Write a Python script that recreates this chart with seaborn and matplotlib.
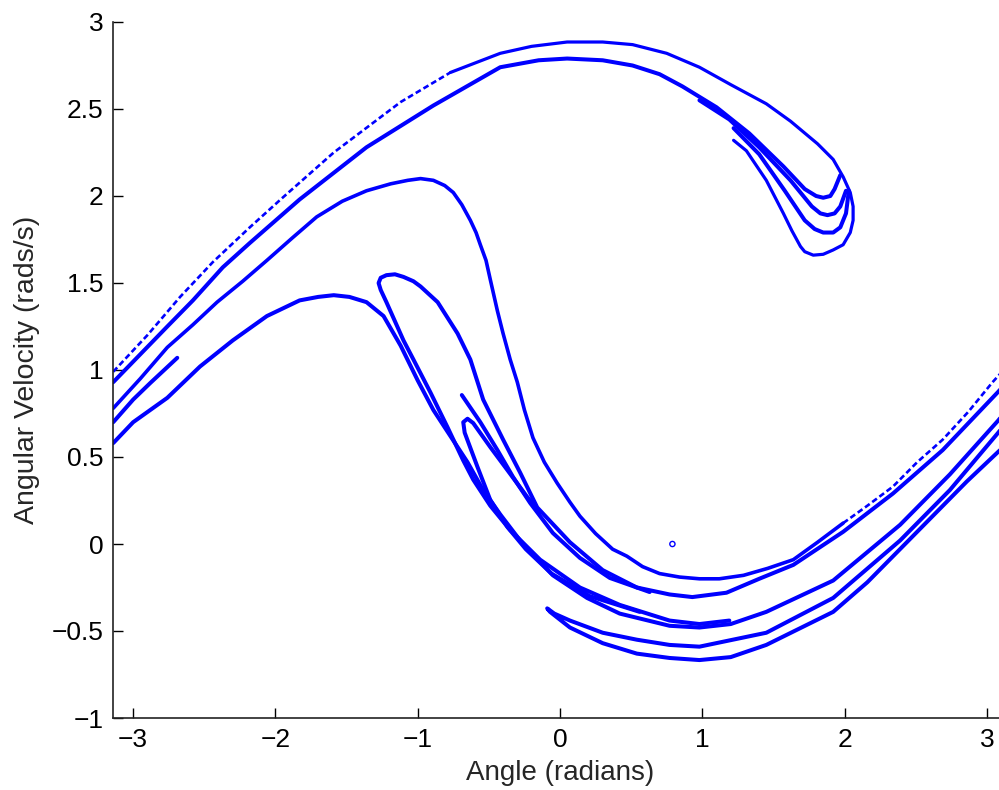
import numpy as np
import pandas as pd
import matplotlib
matplotlib.use("Agg")
import matplotlib.pyplot as plt
import seaborn as sns

# ---- data: strands of the Poincare section (angle in rad, angular velocity in rad/s) ----
# outer strand of the top band: sparse part (left) and dense part (top arc + hook)
t1s_angle = [-3.14, -2.90, -2.67, -2.44, -2.18, -1.95, -1.59, -1.12, -0.77]
t1s_omega = [0.99, 1.20, 1.42, 1.62, 1.82, 1.99, 2.25, 2.54, 2.71]
t1_angle = [-0.77, -0.42, -0.20, 0.05, 0.30, 0.51,
            0.75, 0.98, 1.20, 1.45, 1.62, 1.81, 1.92, 1.99, 2.04, 2.06, 2.06, 2.04, 1.99, 1.92, 1.85, 1.78,
            1.72, 1.69, 1.63, 1.57, 1.45, 1.31, 1.22]
t1_omega = [2.71, 2.82, 2.86, 2.885, 2.885, 2.87,
            2.82, 2.74, 2.64, 2.53, 2.43, 2.30, 2.21, 2.11, 2.02, 1.94, 1.86, 1.79, 1.72, 1.69, 1.665, 1.66,
            1.68, 1.71, 1.80, 1.90, 2.09, 2.26, 2.32]

t2_angle = [-3.14, -2.76, -2.58, -2.37, -2.18, -1.83, -1.36, -0.89, -0.42, -0.15, 0.05, 0.30, 0.51, 0.70,
            0.86, 1.10, 1.33, 1.57, 1.72, 1.80, 1.85, 1.90, 1.93, 1.97]
t2_omega = [0.93, 1.25, 1.40, 1.59, 1.73, 1.98, 2.28, 2.52, 2.74, 2.78, 2.79, 2.78, 2.75, 2.70,
            2.63, 2.51, 2.36, 2.17, 2.04, 2.00, 1.99, 2.00, 2.04, 2.12]

u2_angle = [0.98, 1.19, 1.40, 1.62, 1.77, 1.83, 1.88, 1.93, 1.97, 2.01]
u2_omega = [2.55, 2.44, 2.28, 2.09, 1.94, 1.90, 1.89, 1.90, 1.94, 2.03]

u3_angle = [1.22, 1.40, 1.58, 1.72, 1.79, 1.85, 1.92, 1.97, 2.01, 2.03]
u3_omega = [2.39, 2.24, 2.03, 1.86, 1.81, 1.79, 1.79, 1.82, 1.90, 2.03]

# middle band: dense part and sparse right-hand part
m_angle = [-3.14, -2.95, -2.76, -2.58, -2.41, -2.23, -2.06, -1.88, -1.71, -1.53, -1.36, -1.19, -1.07, -0.98,
           -0.89, -0.81, -0.75, -0.69, -0.63, -0.59, -0.56, -0.52, -0.49, -0.44, -0.40, -0.35, -0.30, -0.25,
           -0.19, -0.11, -0.02, 0.07, 0.14, 0.25, 0.37, 0.47, 0.58, 0.70, 0.84, 0.98, 1.12, 1.29, 1.46, 1.64,
           1.81, 1.99]
m_omega = [0.78, 0.95, 1.13, 1.26, 1.39, 1.51, 1.63, 1.76, 1.88, 1.97, 2.03, 2.07, 2.09, 2.10,
           2.09, 2.06, 2.02, 1.95, 1.86, 1.79, 1.72, 1.63, 1.52, 1.34, 1.21, 1.06, 0.93, 0.77,
           0.61, 0.47, 0.35, 0.24, 0.16, 0.06, -0.03, -0.07, -0.13, -0.17, -0.19, -0.20, -0.20, -0.18, -0.14, -0.09,
           0.01, 0.12]
ms_angle = [1.99, 2.16, 2.34, 2.51, 2.69, 2.87, 3.04, 3.14]
ms_omega = [0.12, 0.22, 0.33, 0.47, 0.60, 0.76, 0.93, 1.02]

loop_angle = [1.19, 0.98, 0.77, 0.42, 0.14, -0.14, -0.35, -0.49, -0.61, -0.68, -0.79, -0.91, -1.03, -1.10,
              -1.16, -1.22, -1.26, -1.275, -1.26, -1.22, -1.16, -1.10, -1.03, -0.98, -0.86, -0.72, -0.63,
              -0.54, -0.40, -0.28, -0.16, 0.07, 0.30, 0.54, 0.77, 0.93, 1.17, 1.40, 1.64, 1.99, 2.34, 2.69,
              3.08, 3.14]
loop_omega = [-0.44, -0.46, -0.44, -0.35, -0.25, -0.09, 0.08, 0.22, 0.37, 0.48, 0.67, 0.87, 1.06, 1.17,
              1.28, 1.39, 1.46, 1.50, 1.53, 1.545, 1.55, 1.535, 1.51, 1.48, 1.39, 1.21, 1.06,
              0.83, 0.60, 0.41, 0.21, 0.01, -0.15, -0.25, -0.29, -0.305, -0.28, -0.20, -0.12, 0.07, 0.29, 0.54,
              0.875, 0.93]

e_angle = [-3.14, -3.00, -2.76, -2.53, -2.30, -2.06, -1.83, -1.70, -1.59, -1.48, -1.36, -1.24, -1.12, -1.00,
           -0.89, -0.77, -0.65, -0.54, -0.42, -0.28, -0.05, 0.19, 0.42, 0.77, 0.98, 1.20, 1.45, 1.92, 2.39,
           2.74, 3.08, 3.14]
e_omega = [0.58, 0.70, 0.84, 1.02, 1.17, 1.31, 1.40, 1.42, 1.43, 1.42, 1.39, 1.31, 1.14, 0.94,
           0.77, 0.62, 0.47, 0.31, 0.17, 0.02, -0.18, -0.31, -0.40, -0.47, -0.48, -0.46, -0.39, -0.21, 0.11,
           0.40, 0.71, 0.77]

small_angle = [3.14, 3.08, 2.74, 2.39, 1.92, 1.45, 0.98, 0.77, 0.54, 0.30, 0.07, -0.04, -0.09, -0.07,
               0.07, 0.30, 0.54, 0.77, 0.98, 1.20, 1.45, 1.92, 2.16, 2.51, 2.86, 3.08, 3.14]
small_omega = [0.70, 0.64, 0.31, 0.02, -0.31, -0.51, -0.59, -0.58, -0.55, -0.51, -0.44, -0.40, -0.37, -0.39,
               -0.48, -0.57, -0.63, -0.655, -0.667, -0.65, -0.58, -0.39, -0.22, 0.07, 0.36, 0.53, 0.575]

d_angle = [-3.14, -3.00, -2.88, -2.69]
d_omega = [0.70, 0.83, 0.925, 1.07]

n1_angle = [-0.69, -0.56, -0.44, -0.33, -0.21, -0.05, 0.14, 0.35, 0.63]
n1_omega = [0.856, 0.70, 0.54, 0.385, 0.236, 0.063, -0.08, -0.195, -0.276]

n2_angle = [-0.14, -0.23, -0.37, -0.49, -0.61, -0.65, -0.68, -0.67, -0.58, -0.49, -0.37, -0.24, -0.06, 0.21, 0.56]
n2_omega = [0.18, 0.27, 0.425, 0.557, 0.695, 0.72, 0.70, 0.64, 0.443, 0.253, 0.098, -0.03, -0.17, -0.30, -0.39]

fixed_angle = [0.79]
fixed_omega = [0.0]

x_ticks = [-3, -2, -1, 0, 1, 2, 3]
x_tick_labels = ["\u22123", "\u22122", "\u22121", "0", "1", "2", "3"]
y_ticks = [-1, -0.5, 0, 0.5, 1, 1.5, 2, 2.5, 3]
y_tick_labels = ["\u22121", "\u22120.5", "0", "0.5", "1", "1.5", "2", "2.5", "3"]

# ---- plotting ----
sns.set_theme(style="white")
plt.rcParams["font.family"] = ["Liberation Sans", "DejaVu Sans"]

fig = plt.figure(figsize=(9.99, 7.9), dpi=100)
ax = fig.add_axes([113 / 999, 72 / 790, (1007 - 113) / 999, (718 - 22) / 790])

blue = "#0000ff"
dense = [
    (t1_angle, t1_omega, 2.3), (t2_angle, t2_omega, 2.9), (u2_angle, u2_omega, 2.9),
    (u3_angle, u3_omega, 2.9), (m_angle, m_omega, 2.6), (loop_angle, loop_omega, 2.9),
    (e_angle, e_omega, 2.9), (small_angle, small_omega, 2.9), (d_angle, d_omega, 2.9),
    (n1_angle, n1_omega, 2.9), (n2_angle, n2_omega, 2.9),
]
for xa, ya, lw in dense:
    df = pd.DataFrame({"angle": xa, "omega": ya})
    sns.lineplot(data=df, x="angle", y="omega", sort=False, estimator=None,
                 color=blue, linewidth=lw, solid_joinstyle="round",
                 solid_capstyle="round", ax=ax)

sparse = [(t1s_angle, t1s_omega), (ms_angle, ms_omega)]
for xa, ya in sparse:
    df = pd.DataFrame({"angle": xa, "omega": ya})
    sns.lineplot(data=df, x="angle", y="omega", sort=False, estimator=None,
                 color=blue, linewidth=1.9, linestyle=(0, (2.2, 1.2)), ax=ax)

sns.scatterplot(x=fixed_angle, y=fixed_omega, marker="o", s=14, facecolor="none",
                edgecolor=blue, linewidth=1.0, ax=ax)

ax.set_xlim(-np.pi, np.pi)
ax.set_ylim(-1, 3)
ax.set_xticks(x_ticks)
ax.set_xticklabels(x_tick_labels)
ax.set_yticks(y_ticks)
ax.set_yticklabels(y_tick_labels)
ax.tick_params(direction="in", length=7, width=1.0, labelsize=19, pad=7, colors="black",
               bottom=True, left=True)
for s in ["top", "right"]:
    ax.spines[s].set_visible(False)
for s in ["left", "bottom"]:
    ax.spines[s].set_color("#222222")
    ax.spines[s].set_linewidth(1.2)
ax.set_xlabel("Angle (radians)", fontsize=20, labelpad=6)
ax.set_ylabel("Angular Velocity (rads/s)", fontsize=20.5, labelpad=8)
ax.grid(False)

fig.savefig("out.png", dpi=100)
